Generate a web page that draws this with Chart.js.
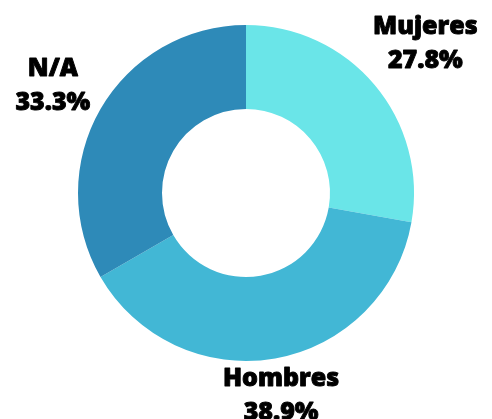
<!DOCTYPE html>
<html><head><meta charset="utf-8">
<script src="https://cdn.jsdelivr.net/npm/chart.js@4/dist/chart.umd.min.js"></script>
<style>html,body{margin:0;padding:0;background:#fff}#wrap{width:492px;height:419px}</style>
</head><body><div id="wrap"><canvas id="c" width="492" height="419"></canvas></div>
<script>
const categories = ["Mujeres", "Hombres", "N/A"];
const values = [5, 7, 6];
const percentLabels = ["27.8%", "38.9%", "33.3%"];
const colors = ["#6AE5E8", "#42B7D5", "#2E8AB8"];
const labelDistance = [238, 202, 223];

const labelPlugin = {
  id: 'outLabels',
  afterDatasetsDraw(chart) {
    const ctx = chart.ctx;
    const meta = chart.getDatasetMeta(0);
    ctx.save();
    ctx.font = '800 25px "Open Sans"';
    ctx.fillStyle = '#000';
    ctx.strokeStyle = '#000';
    ctx.lineWidth = 0.9;
    ctx.lineJoin = 'round';
    ctx.textAlign = 'center';
    ctx.textBaseline = 'alphabetic';
    meta.data.forEach((arc, i) => {
      const p = arc.getProps(['x','y','startAngle','endAngle'], true);
      const a = (p.startAngle + p.endAngle) / 2;
      const d = labelDistance[i];
      const cx = p.x + Math.cos(a) * d - (i === 0 ? 3 : 0);
      const cy = p.y + Math.sin(a) * d;
      [[categories[i], cy - 6], [percentLabels[i], cy + 28]].forEach(([t, y]) => {
        ctx.fillText(t, cx, y);
        ctx.strokeText(t, cx, y);
      });
    });
    ctx.restore();
  }
};

new Chart(document.getElementById('c'), {
  type: 'doughnut',
  data: { labels: categories, datasets: [{ data: values, backgroundColor: colors, borderWidth: 0 }] },
  options: {
    responsive: false,
    animation: false,
    cutout: '50%',
    layout: { padding: { top: 25, bottom: 58, left: 0, right: 0 } },
    plugins: { legend: { display: false }, tooltip: { enabled: false } }
  },
  plugins: [labelPlugin]
});
</script></body></html>
